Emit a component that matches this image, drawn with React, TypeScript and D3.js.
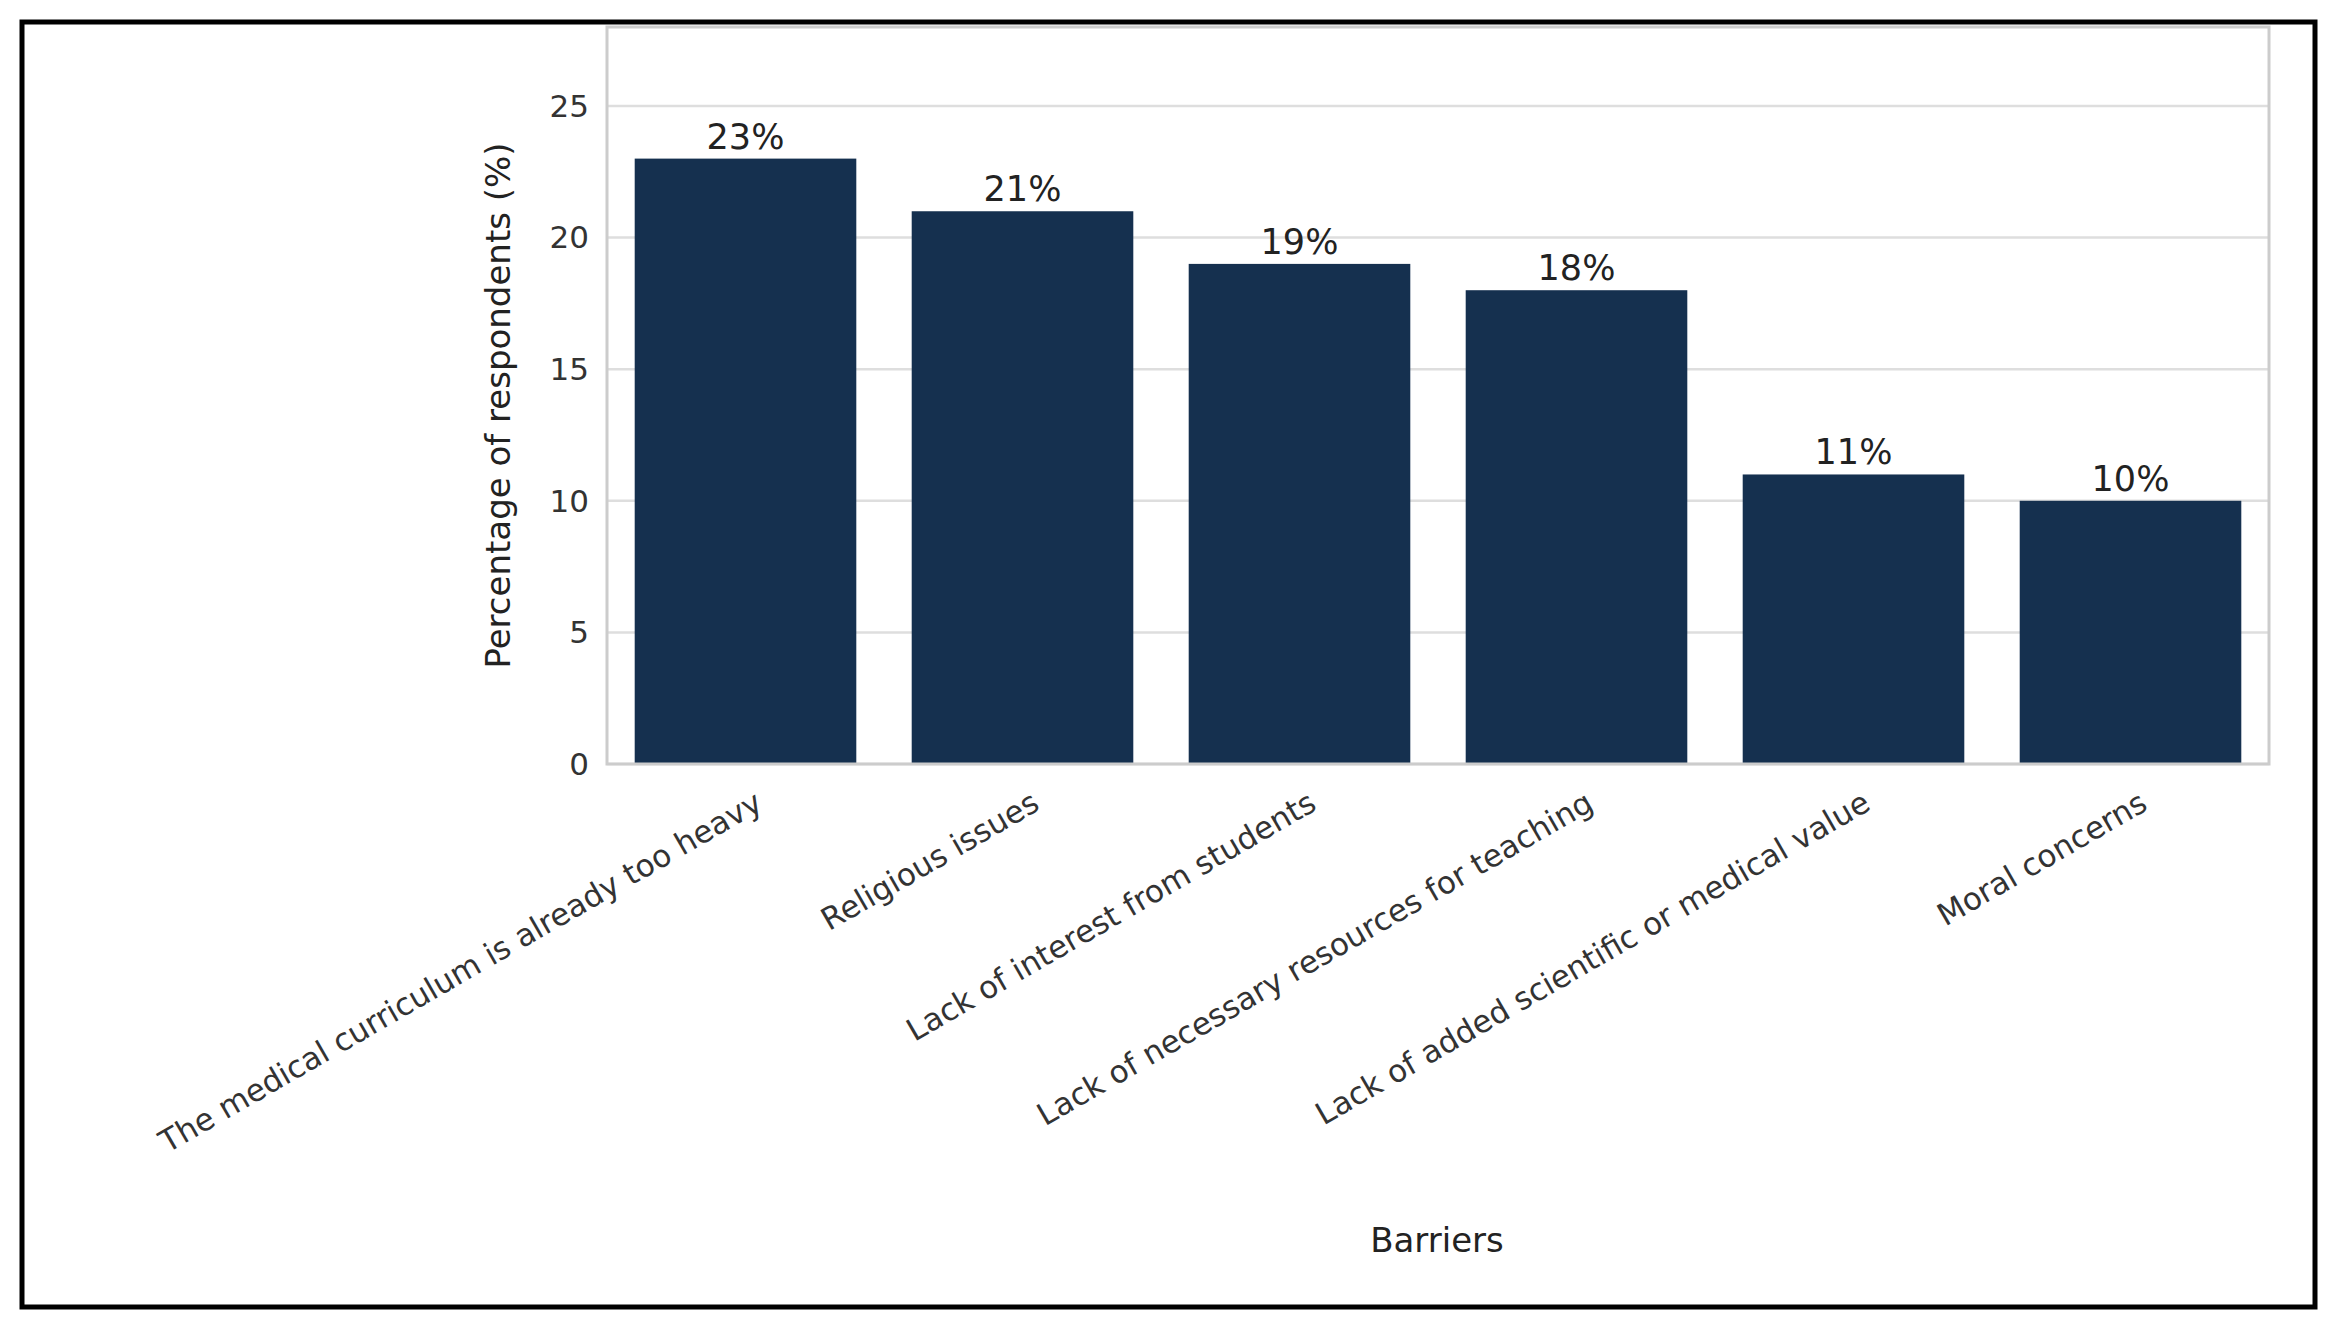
import * as d3 from "d3";
import React from "react";

const categories = [
  "The medical curriculum is already too heavy",
  "Religious issues",
  "Lack of interest from students",
  "Lack of necessary resources for teaching",
  "Lack of added scientific or medical value",
  "Moral concerns",
];
const values = [23, 21, 19, 18, 11, 10];
const yTicks = [0, 5, 10, 15, 20, 25];

export default function App() {
  const W = 2327, H = 1320;
  const left = 607, right = 2269, top = 27, bottom = 764;
  const x = d3.scaleBand().domain(categories).range([left, right]).paddingInner(0.2).paddingOuter(0.1);
  const y = d3.scaleLinear().domain([0, 28]).range([bottom, top]);
  const font = "DejaVu Sans, sans-serif";
  const bar = "#15304f";
  return (
    <svg width={W} height={H} style={{ position: "absolute", left: 0, top: 0, background: "#fff" }} fontFamily={font}>
      <rect x={22} y={22} width={2293} height={1285} fill="none" stroke="#000" strokeWidth={5} />
      {yTicks.map((t) => (
        <g key={t}>
          <line x1={left} x2={right} y1={y(t)} y2={y(t)} stroke="#dedede" strokeWidth={2.5} />
          <text x={left - 18} y={y(t)} dy="0.35em" textAnchor="end" fontSize={31} fill="#333">{t}</text>
        </g>
      ))}
      {categories.map((c, i) => (
        <g key={c}>
          <rect x={x(c)!} y={y(values[i])} width={x.bandwidth()} height={bottom - y(values[i])} fill={bar} />
          <text x={x(c)! + x.bandwidth() / 2} y={y(values[i]) - 10} textAnchor="middle" fontSize={35} fill="#222">{values[i]}%</text>
          <text transform={`translate(${x(c)! + x.bandwidth() / 2 + 8},${bottom + 26}) rotate(-30)`} textAnchor="end" dy="0.7em" fontSize={31} fill="#333">{c}</text>
        </g>
      ))}
      <rect x={left} y={top} width={right - left} height={bottom - top} fill="none" stroke="#cccccc" strokeWidth={3} />
      <text transform={`translate(510,${(top + bottom) / 2 + 10}) rotate(-90)`} textAnchor="middle" fontSize={34} fill="#222">Percentage of respondents (%)</text>
      <text x={1437} y={1252} textAnchor="middle" fontSize={34} fill="#222">Barriers</text>
    </svg>
  );
}
